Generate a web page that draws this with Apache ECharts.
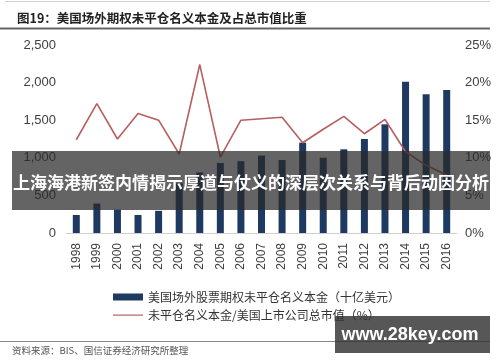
<!DOCTYPE html>
<html>
<head>
<meta charset="utf-8">
<script src="https://cdn.jsdelivr.net/npm/echarts@6/dist/echarts.min.js"></script>
<style>
html,body{margin:0;padding:0;background:#fff;}
#chart{width:500px;height:362px;}
</style>
</head>
<body>
<div id="chart"></div>
<script>
const years = ['1998','1999','2000','2001','2002','2003','2004','2005','2006','2007','2008','2009','2010','2011','2012','2013','2014','2015','2016'];
const notional = [239, 392, 310, 239, 295, 660, 805, 931, 955, 1030, 971, 1201, 1001, 1113, 1250, 1445, 2012, 1844, 1902];
const ratio = [12.4, 17.2, 12.5, 15.9, 15.0, 10.5, 22.4, 10.1, 15.0, 15.2, 15.4, 12.0, 13.8, 15.5, 13.2, 15.1, 10.8, 9.0, 7.7];
const leftTicks = [0, 500, 1000, 1500, 2000, 2500];
const rightTicks = [0, 5, 10, 15, 20, 25];
const titleText = '图19：美国场外期权未平仓名义本金及占总市值比重';
const barName = '美国场外股票期权未平仓名义本金（十亿美元）';
const lineName = '未平仓名义本金/美国上市公司总市值（%）';
const sourceText = '资料来源：BIS、国信证券经济研究所整理';
const bannerText = '上海海港新签内情揭示厚道与仗义的深层次关系与背后动因分析';
const watermarkText = 'www.28key.com';

const chart = echarts.init(document.getElementById('chart'), null, {renderer: 'canvas'});
const sans = '"Liberation Sans", Arial, sans-serif';
const cjk = '"Noto Sans CJK SC", sans-serif';

chart.setOption({
  animation: false,
  backgroundColor: '#fff',
  title: {
    text: titleText,
    left: 12, top: 7,
    textStyle: {fontFamily: cjk, fontSize: 12.5, fontWeight: 'bold', color: '#222'}
  },
  legend: {
    orient: 'vertical',
    left: 108, top: 286,
    itemWidth: 30, itemHeight: 7, itemGap: 6,
    textStyle: {fontFamily: cjk, fontSize: 12, color: '#333'},
    data: [
      {name: barName, icon: 'rect'},
      {name: lineName, icon: 'path://M0,0 M0,7 M0,3 L30,3 L30,4.2 L0,4.2 Z'}
    ]
  },
  grid: {left: 66, right: 43, top: 45, bottom: 129, containLabel: false},
  xAxis: {
    type: 'category',
    data: years,
    boundaryGap: true,
    axisLine: {show: true, lineStyle: {color: '#d0d0d0', width: 1}},
    axisTick: {show: false},
    axisLabel: {rotate: 90, fontFamily: sans, fontSize: 12, color: '#404040', margin: 10, interval: 0}
  },
  yAxis: [
    {
      type: 'value', min: 0, max: 2500, interval: 500,
      splitLine: {show: false}, axisLine: {show: false}, axisTick: {show: false},
      axisLabel: {
        fontFamily: sans, fontSize: 13, color: '#404040', margin: 10,
        formatter: v => leftTicks.includes(v) ? v.toLocaleString('en-US') : ''
      }
    },
    {
      type: 'value', min: 0, max: 25, interval: 5,
      splitLine: {show: false}, axisLine: {show: false}, axisTick: {show: false},
      axisLabel: {
        fontFamily: sans, fontSize: 13, color: '#404040', margin: 8,
        formatter: v => rightTicks.includes(v) ? v + '%' : ''
      }
    }
  ],
  series: [
    {
      name: barName, type: 'bar', data: notional, yAxisIndex: 0,
      barWidth: 7, itemStyle: {color: '#1f3a60'}
    },
    {
      name: lineName, type: 'line', data: ratio, yAxisIndex: 1,
      symbol: 'none', lineStyle: {color: '#b5605e', width: 1.6},
      itemStyle: {color: '#b5605e'}
    }
  ],
  graphic: [
    {type: 'line', z: 50, shape: {x1: 5, y1: 1.5, x2: 490, y2: 1.5}, style: {stroke: '#cfcfcf', lineWidth: 1}},
    {type: 'line', z: 50, shape: {x1: 0, y1: 28.5, x2: 490, y2: 28.5}, style: {stroke: '#666', lineWidth: 2}},
    {type: 'line', z: 50, shape: {x1: 0, y1: 341.5, x2: 490, y2: 341.5}, style: {stroke: '#888', lineWidth: 1}},
    {type: 'text', z: 50, left: 12, top: 346, style: {text: sourceText, font: '9.5px ' + cjk, fill: '#555'}},
    {type: 'rect', z: 100, shape: {x: 12, y: 151, width: 478, height: 59}, style: {fill: 'rgba(40,40,40,0.72)'}},
    {type: 'text', z: 101, x: 251, y: 183, style: {text: bannerText, font: 'bold 17px ' + cjk, fill: '#fff', align: 'center', verticalAlign: 'middle'}},
    {type: 'rect', z: 100, shape: {x: 335, y: 316, width: 155, height: 37}, style: {fill: 'rgba(50,50,50,0.82)'}},
    {type: 'text', z: 101, x: 410, y: 335, style: {text: watermarkText, font: 'bold 18px ' + sans, fill: '#fff', align: 'center', verticalAlign: 'middle'}}
  ]
});
</script>
</body>
</html>
